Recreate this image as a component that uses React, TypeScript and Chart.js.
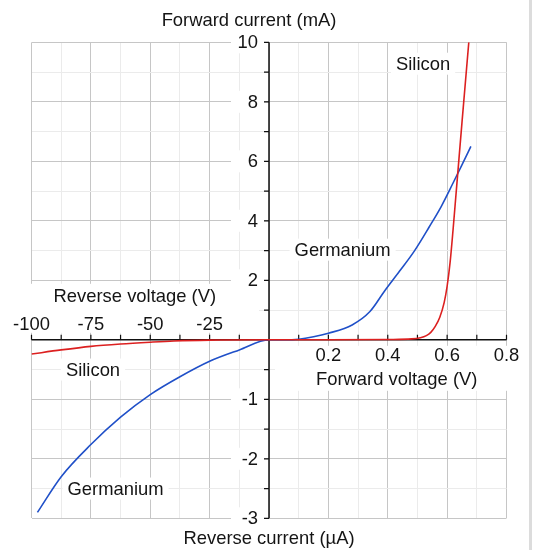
import React, { useEffect, useRef } from "react";
import { Chart, registerables } from "chart.js";

Chart.register(...registerables);

// Silicon: reverse (V, µA) and forward (V, mA)
const siliconReverseV = [-100, -87.5, -75, -62.5, -50, -40, -25, 0];
const siliconReverseI = [-0.24, -0.17, -0.11, -0.07, -0.04, -0.02, -0.005, 0];
const siliconForwardV = [0, 0.2, 0.4, 0.48, 0.51, 0.53, 0.545, 0.56, 0.575, 0.59, 0.6, 0.61, 0.62, 0.63, 0.64, 0.65, 0.673];
const siliconForwardI = [0, 0, 0.01, 0.03, 0.07, 0.14, 0.25, 0.45, 0.75, 1.25, 1.8, 2.6, 3.7, 4.9, 6.1, 7.3, 10];

// Germanium: reverse (V, µA) and forward (V, mA)
const germaniumReverseV = [-97.5, -87.5, -75, -62.5, -50, -37.5, -25, -12.5, 0];
const germaniumReverseI = [-2.9, -2.3, -1.76, -1.3, -0.92, -0.62, -0.36, -0.17, 0];
const germaniumForwardV = [0, 0.05, 0.1, 0.15, 0.2, 0.28, 0.34, 0.39, 0.44, 0.49, 0.54, 0.58, 0.62, 0.65, 0.68];
const germaniumForwardI = [0, 0, 0.02, 0.1, 0.22, 0.5, 0.95, 1.65, 2.31, 2.99, 3.8, 4.48, 5.27, 5.88, 6.5];

// Tick labels
const reverseVoltageTicks = [-100, -75, -50, -25];
const forwardVoltageTicks = [0.2, 0.4, 0.6, 0.8];
const forwardCurrentTicks = [2, 4, 6, 8, 10];
const reverseCurrentTicks = [-1, -2, -3];

// Annotations (data coordinates: V and mA / µA)
const annotationTexts = ["Silicon", "Germanium", "Silicon", "Germanium"];
const annotationV = [0.519, 0.248, -74.1, -64.6];
const annotationI = [9.28, 3.03, -0.5, -2.5];

// Scale transforms: reverse side compressed (100 V -> 0.8 units, 1 µA -> 2 units)
const tx = (v: number) => (v < 0 ? v / 125 : v);
const tyRev = (i: number) => i * 2;
const tyFwd = (i: number) => i;
const tyAny = (v: number, i: number) => (v < 0 || i < 0 ? tyRev(i) : tyFwd(i));

const FONT = '18.4px "Liberation Sans", Arial, Helvetica, sans-serif';
const TEXT = "#141414";

function fmtTick(v: number) {
  return String(v);
}

const diodePlugin = {
  id: "diodeAxes",
  beforeDatasetsDraw(chart: any) {
    const { ctx, chartArea, scales } = chart;
    const x = scales.x;
    const y = scales.y;
    const x0 = x.getPixelForValue(0);
    const y0 = y.getPixelForValue(0);
    ctx.save();
    ctx.font = FONT;
    ctx.fillStyle = "#ffffff";

    // white blocks behind axis label groups
    ctx.fillRect(chartArea.left - 2, y0 - 56, x0 - 10 - (chartArea.left - 2), 49);
    ctx.fillRect(x0 + 6, y0 + 6, chartArea.right + 2 - (x0 + 6), 45);

    // y tick label boxes
    const yLabels: [number, string][] = [];
    forwardCurrentTicks.forEach((t) => yLabels.push([tyFwd(t), fmtTick(t)]));
    reverseCurrentTicks.forEach((t) => yLabels.push([tyRev(t), fmtTick(t)]));
    yLabels.forEach(([val]) => {
      const py = y.getPixelForValue(val);
      ctx.fillStyle = "#ffffff";
      ctx.fillRect(x0 - 38, py - 11, 33, 22);
    });

    // annotation boxes
    annotationTexts.forEach((t, i) => {
      const px = x.getPixelForValue(tx(annotationV[i]));
      const py = y.getPixelForValue(tyAny(annotationV[i], annotationI[i]));
      const w = ctx.measureText(t).width;
      ctx.fillStyle = "#ffffff";
      ctx.fillRect(px - w / 2 - 5, py - 11, w + 10, 22);
    });

    // axes
    ctx.strokeStyle = "#111111";
    ctx.lineWidth = 1.5;
    ctx.beginPath();
    ctx.moveTo(x0, chartArea.top);
    ctx.lineTo(x0, chartArea.bottom);
    ctx.moveTo(chartArea.left, y0);
    ctx.lineTo(chartArea.right, y0);
    ctx.stroke();

    // tick marks
    ctx.lineWidth = 1.2;
    ctx.beginPath();
    y.ticks.forEach((t: any) => {
      const py = y.getPixelForValue(t.value);
      ctx.moveTo(x0 - 5, py);
      ctx.lineTo(x0, py);
    });
    x.ticks.forEach((t: any) => {
      if (Math.abs(t.value) < 1e-9) return;
      const px = x.getPixelForValue(t.value);
      ctx.moveTo(px, y0 - 5);
      ctx.lineTo(px, y0);
    });
    ctx.stroke();

    // text
    ctx.fillStyle = TEXT;
    ctx.textBaseline = "middle";
    ctx.textAlign = "right";
    yLabels.forEach(([val, label]) => {
      ctx.fillText(label, x0 - 11, y.getPixelForValue(val) + 1);
    });
    ctx.textAlign = "center";
    reverseVoltageTicks.forEach((v) => {
      ctx.fillText(fmtTick(v), x.getPixelForValue(tx(v)), y0 - 15);
    });
    forwardVoltageTicks.forEach((v) => {
      ctx.fillText(fmtTick(v), x.getPixelForValue(tx(v)), y0 + 16);
    });
    ctx.fillText("Reverse voltage (V)", x.getPixelForValue(tx(-56.5)), y0 - 43);
    ctx.fillText("Forward voltage (V)", x.getPixelForValue(tx(0.43)), y0 + 40);
    ctx.fillText("Forward current (mA)", x0 - 20, chartArea.top - 21);
    ctx.fillText("Reverse current (µA)", x0, chartArea.bottom + 21);

    annotationTexts.forEach((t, i) => {
      const px = x.getPixelForValue(tx(annotationV[i]));
      const py = y.getPixelForValue(tyAny(annotationV[i], annotationI[i]));
      ctx.fillText(t, px, py + 1);
    });
    ctx.restore();
  },
};

function buildPoints(rv: number[], ri: number[], fv: number[], fi: number[]) {
  const pts: { x: number; y: number }[] = [];
  rv.forEach((v, k) => pts.push({ x: tx(v), y: tyRev(ri[k]) }));
  fv.forEach((v, k) => {
    if (k === 0 && v === 0) return;
    pts.push({ x: tx(v), y: tyFwd(fi[k]) });
  });
  return pts;
}

const xTickValues = Array.from({ length: 17 }, (_, k) => Math.round((k - 8) * 10) / 100);
const yTickValues = Array.from({ length: 17 }, (_, k) => k - 6);

export default function App() {
  const ref = useRef<HTMLCanvasElement | null>(null);
  useEffect(() => {
    if (!ref.current) return;
    const gridColor = (v: number) => (v % 2 === 0 ? "#c6c6c6" : "#ebebeb");
    const chart = new Chart(ref.current, {
      type: "line",
      data: {
        datasets: [
          {
            label: "Silicon",
            data: buildPoints(siliconReverseV, siliconReverseI, siliconForwardV, siliconForwardI),
            borderColor: "#dc2020",
            borderWidth: 1.6,
            pointRadius: 0,
            cubicInterpolationMode: "monotone",
            fill: false,
          },
          {
            label: "Germanium",
            data: buildPoints(germaniumReverseV, germaniumReverseI, germaniumForwardV, germaniumForwardI),
            borderColor: "#2050c8",
            borderWidth: 1.6,
            pointRadius: 0,
            cubicInterpolationMode: "monotone",
            fill: false,
          },
        ],
      },
      options: {
        animation: false,
        responsive: false,
        layout: { padding: { left: 31.5, top: 42.3, right: 26.5, bottom: 31.7 } },
        plugins: { legend: { display: false }, tooltip: { enabled: false } },
        scales: {
          x: {
            type: "linear",
            min: -0.8,
            max: 0.8,
            afterBuildTicks: (s: any) => {
              s.ticks = xTickValues.map((v) => ({ value: v }));
            },
            afterFit: (s: any) => {
              s.height = 0;
            },
            ticks: { display: false },
            border: { display: false },
            grid: {
              drawTicks: false,
              lineWidth: 1,
              color: (c: any) => gridColor(Math.abs(Math.round(c.tick.value * 10))),
            },
          },
          y: {
            type: "linear",
            min: -6,
            max: 10,
            afterBuildTicks: (s: any) => {
              s.ticks = yTickValues.map((v) => ({ value: v }));
            },
            afterFit: (s: any) => {
              s.width = 0;
            },
            ticks: { display: false },
            border: { display: false },
            grid: {
              drawTicks: false,
              lineWidth: 1,
              color: (c: any) => gridColor(Math.abs(c.tick.value)),
            },
          },
        },
      },
      plugins: [diodePlugin],
    });
    return () => chart.destroy();
  }, []);
  return (
    <div style={{ position: "fixed", left: 0, top: 0, width: 533, height: 550 }}>
      <canvas ref={ref} width={533} height={550} style={{ display: "block" }} />
      <div
        style={{
          position: "absolute",
          left: 529,
          top: 0,
          width: 3,
          height: 550,
          background: "#dcdcdc",
        }}
      />
    </div>
  );
}
